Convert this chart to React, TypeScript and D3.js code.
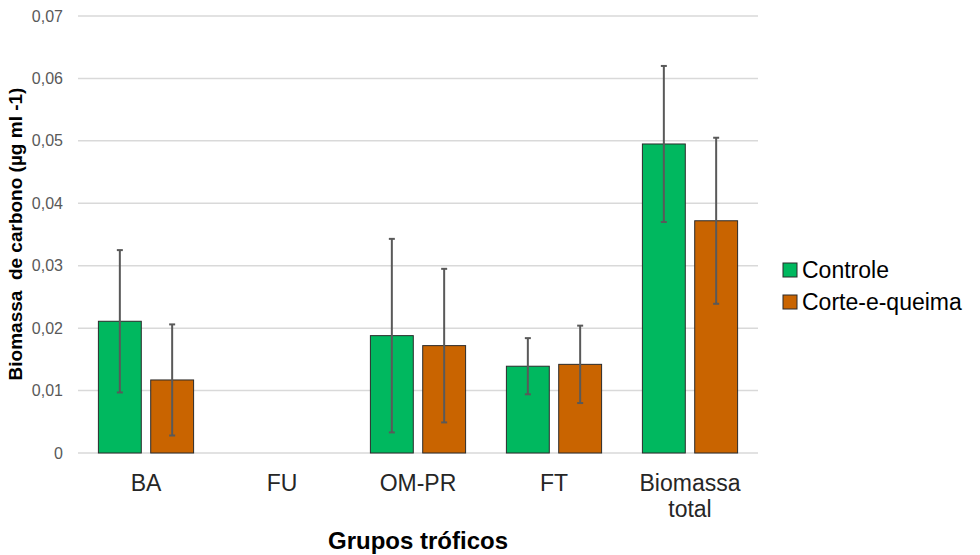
import React, { useEffect, useRef } from "react";
import * as d3 from "d3";

const categories = ["BA", "FU", "OM-PR", "FT", "Biomassa total"];
const categoryLabels = [["BA"], ["FU"], ["OM-PR"], ["FT"], ["Biomassa", "total"]];
const seriesNames = ["Controle", "Corte-e-queima"];
const seriesColors = ["#00B85F", "#C96400"];

const controleMeans = [0.0211, 0, 0.0188, 0.0139, 0.0495];
const controleErrors = [0.0114, 0, 0.0155, 0.0045, 0.0125];
const corteMeans = [0.0117, 0, 0.0172, 0.0142, 0.0372];
const corteErrors = [0.0089, 0, 0.0123, 0.0062, 0.0133];

const yTicks = [0, 0.01, 0.02, 0.03, 0.04, 0.05, 0.06, 0.07];
const yTickLabels = ["0", "0,01", "0,02", "0,03", "0,04", "0,05", "0,06", "0,07"];

const FONT = "Liberation Sans, Arial, sans-serif";

export default function App() {
  const ref = useRef<SVGSVGElement>(null);

  useEffect(() => {
    if (!ref.current) return;
    const svg = d3.select(ref.current);
    svg.selectAll("*").remove();

    const left = 78;
    const right = 758;
    const top = 16;
    const bottom = 453;

    const x0 = d3
      .scaleBand<string>()
      .domain(categories)
      .range([left, right])
      .paddingInner(0.3)
      .paddingOuter(0.15);

    const x1 = d3
      .scaleBand<string>()
      .domain(seriesNames)
      .range([0, x0.bandwidth()])
      .paddingInner(0.18);

    const y = d3.scaleLinear().domain([0, 0.07]).range([bottom, top]);

    // gridlines
    svg
      .append("g")
      .selectAll("line")
      .data(yTicks)
      .enter()
      .append("line")
      .attr("x1", left)
      .attr("x2", right)
      .attr("y1", (d) => y(d))
      .attr("y2", (d) => y(d))
      .attr("stroke", "#d9d9d9")
      .attr("stroke-width", 1.5);

    // y tick labels
    svg
      .append("g")
      .selectAll("text")
      .data(yTicks)
      .enter()
      .append("text")
      .attr("x", 63)
      .attr("y", (d) => y(d))
      .attr("dy", "0.35em")
      .attr("text-anchor", "end")
      .style("font-family", FONT)
      .style("font-size", "16px")
      .style("fill", "#595959")
      .text((d, i) => yTickLabels[i]);

    const rows = categories.map((c, i) => ({
      cat: c,
      values: [
        { s: seriesNames[0], v: controleMeans[i], e: controleErrors[i], color: seriesColors[0] },
        { s: seriesNames[1], v: corteMeans[i], e: corteErrors[i], color: seriesColors[1] },
      ],
    }));

    const groups = svg
      .append("g")
      .selectAll("g")
      .data(rows)
      .enter()
      .append("g")
      .attr("transform", (d) => `translate(${x0(d.cat)},0)`);

    const items = groups
      .selectAll("g")
      .data((d) => d.values.filter((v) => v.v > 0))
      .enter()
      .append("g");

    items
      .append("rect")
      .attr("x", (d) => x1(d.s) as number)
      .attr("y", (d) => y(d.v))
      .attr("width", x1.bandwidth())
      .attr("height", (d) => bottom - y(d.v))
      .attr("fill", (d) => d.color)
      .attr("stroke", "#2b2b2b")
      .attr("stroke-width", 1);

    // error bars
    const cx = (d: any) => (x1(d.s) as number) + x1.bandwidth() / 2;
    items
      .append("line")
      .attr("x1", cx)
      .attr("x2", cx)
      .attr("y1", (d) => y(d.v + d.e))
      .attr("y2", (d) => y(d.v - d.e))
      .attr("stroke", "#595959")
      .attr("stroke-width", 2);
    items
      .append("line")
      .attr("x1", (d) => cx(d) - 3)
      .attr("x2", (d) => cx(d) + 3)
      .attr("y1", (d) => y(d.v + d.e))
      .attr("y2", (d) => y(d.v + d.e))
      .attr("stroke", "#595959")
      .attr("stroke-width", 2);
    items
      .append("line")
      .attr("x1", (d) => cx(d) - 3)
      .attr("x2", (d) => cx(d) + 3)
      .attr("y1", (d) => y(d.v - d.e))
      .attr("y2", (d) => y(d.v - d.e))
      .attr("stroke", "#595959")
      .attr("stroke-width", 2);

    // x labels
    const xl = svg
      .append("g")
      .selectAll("text")
      .data(categories)
      .enter()
      .append("text")
      .attr("x", (d) => (x0(d) as number) + x0.bandwidth() / 2)
      .attr("y", 491)
      .attr("text-anchor", "middle")
      .style("font-family", FONT)
      .style("font-size", "23px")
      .style("fill", "#262626");
    xl.selectAll("tspan")
      .data((d) => categoryLabels[categories.indexOf(d)])
      .enter()
      .append("tspan")
      .attr("x", function () {
        return (this as any).parentNode.getAttribute("x");
      })
      .attr("dy", (d, i) => (i === 0 ? 0 : 26))
      .text((d) => d);

    // axis titles
    svg
      .append("text")
      .attr("x", (left + right) / 2)
      .attr("y", 549)
      .attr("text-anchor", "middle")
      .style("font-family", FONT)
      .style("font-size", "24px")
      .style("font-weight", "bold")
      .style("fill", "#000")
      .text("Grupos tróficos");

    svg
      .append("text")
      .attr("transform", `translate(22,234) rotate(-90)`)
      .attr("text-anchor", "middle")
      .style("font-family", FONT)
      .style("font-size", "19px")
      .style("font-weight", "bold")
      .style("fill", "#000")
      .style("white-space", "pre")
      .text("Biomassa  de carbono (µg ml -1)");

    // legend
    const legend = svg
      .append("g")
      .selectAll("g")
      .data(seriesNames)
      .enter()
      .append("g")
      .attr("transform", (d, i) => `translate(783,${270 + i * 32})`);

    legend
      .append("rect")
      .attr("x", 0)
      .attr("y", -7)
      .attr("width", 14)
      .attr("height", 14)
      .attr("fill", (d, i) => seriesColors[i])
      .attr("stroke", "#2b2b2b")
      .attr("stroke-width", 1);

    legend
      .append("text")
      .attr("x", 19)
      .attr("y", 0)
      .attr("dy", "0.36em")
      .style("font-family", FONT)
      .style("font-size", "23px")
      .style("fill", "#000")
      .text((d) => d);
  }, []);

  return (
    <svg
      ref={ref}
      width={980}
      height={555}
      style={{ position: "absolute", left: 0, top: 0, background: "#fff" }}
    />
  );
}
